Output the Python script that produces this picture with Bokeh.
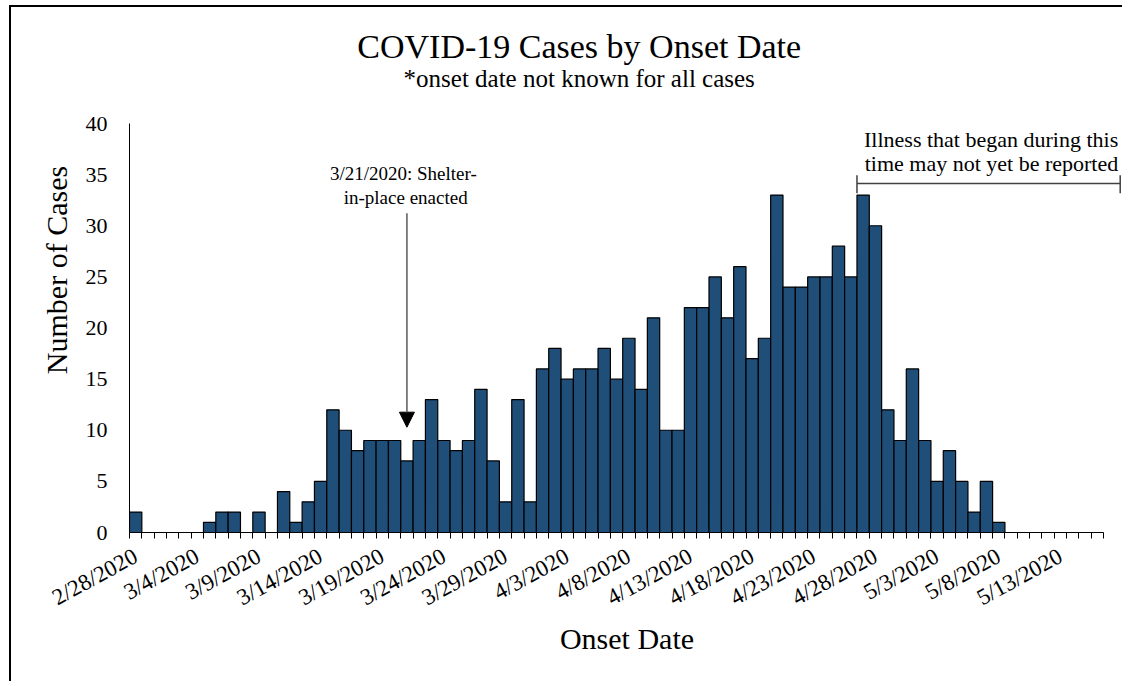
from bokeh.plotting import figure
from bokeh.models import FixedTicker, Range1d, ColumnDataSource, Arrow, NormalHead
from bokeh.core.properties import value
from bokeh.embed import file_html
from bokeh.resources import INLINE

# ---------------- data ----------------
onset_dates = [
    "2/28/2020", "2/29/2020", "3/1/2020", "3/2/2020", "3/3/2020", "3/4/2020", "3/5/2020",
    "3/6/2020", "3/7/2020", "3/8/2020", "3/9/2020", "3/10/2020", "3/11/2020", "3/12/2020",
    "3/13/2020", "3/14/2020", "3/15/2020", "3/16/2020", "3/17/2020", "3/18/2020", "3/19/2020",
    "3/20/2020", "3/21/2020", "3/22/2020", "3/23/2020", "3/24/2020", "3/25/2020", "3/26/2020",
    "3/27/2020", "3/28/2020", "3/29/2020", "3/30/2020", "3/31/2020", "4/1/2020", "4/2/2020",
    "4/3/2020", "4/4/2020", "4/5/2020", "4/6/2020", "4/7/2020", "4/8/2020", "4/9/2020",
    "4/10/2020", "4/11/2020", "4/12/2020", "4/13/2020", "4/14/2020", "4/15/2020", "4/16/2020",
    "4/17/2020", "4/18/2020", "4/19/2020", "4/20/2020", "4/21/2020", "4/22/2020", "4/23/2020",
    "4/24/2020", "4/25/2020", "4/26/2020", "4/27/2020", "4/28/2020", "4/29/2020", "4/30/2020",
    "5/1/2020", "5/2/2020", "5/3/2020", "5/4/2020", "5/5/2020", "5/6/2020", "5/7/2020",
    "5/8/2020", "5/9/2020", "5/10/2020", "5/11/2020", "5/12/2020", "5/13/2020", "5/14/2020",
    "5/15/2020", "5/16/2020",
]

cases = [
    2, 0, 0, 0, 0, 0, 1, 2, 2, 0, 2, 0, 4, 1, 3, 5,
    12, 10, 8, 9, 9, 9, 7, 9, 13, 9, 8, 9, 14, 7, 3, 13, 3,
    16, 18, 15, 16, 16, 18, 15, 19, 14, 21, 10, 10, 22, 22, 25, 21, 26, 17, 19, 33,
    24, 24, 25, 25, 28, 25, 33, 30, 12, 9, 16, 9, 5, 8, 5, 2, 5, 1,
    0, 0, 0, 0, 0, 0, 0, 0,
]

x_tick_labels = ["2/28/2020", "3/4/2020", "3/9/2020", "3/14/2020", "3/19/2020", "3/24/2020",
                 "3/29/2020", "4/3/2020", "4/8/2020", "4/13/2020", "4/18/2020", "4/23/2020",
                 "4/28/2020", "5/3/2020", "5/8/2020", "5/13/2020"]
y_ticks = [0, 5, 10, 15, 20, 25, 30, 35, 40]

shelter_date = "3/21/2020"
unreported_from = "4/27/2020"

# ---------------- layout helpers ----------------
FONT = value("Liberation Serif")
W, H = 1113, 676
LEFT, BOTTOM = 118, 151
PX_PER_DAY = 12.33
PX_PER_CASE = 10.225
ORIG_X, ORIG_Y = 129.3, 532.3   # page position of axis origin
TXT = 9                          # baseline correction for text glyphs


def dx(page_x):
    return (page_x - ORIG_X) / PX_PER_DAY - 0.5


def dy(page_y):
    return (ORIG_Y - page_y) / PX_PER_CASE


idx = list(range(len(onset_dates)))
src = ColumnDataSource(dict(x=idx, top=cases, date=onset_dates))

x_end = -0.5 + (W - LEFT) / PX_PER_DAY
y_end = (H - BOTTOM) / PX_PER_CASE

p = figure(width=W, height=H, output_backend="svg", toolbar_location=None,
           x_range=Range1d(-0.5, x_end), y_range=Range1d(0, y_end),
           min_border_left=LEFT, min_border_right=0, min_border_top=0,
           min_border_bottom=BOTTOM)
p.styles = {"margin-left": "9px", "margin-top": "5px",
            "border-left": "2px solid black", "border-top": "2px solid black"}
p.outline_line_color = None
p.xgrid.grid_line_color = None
p.ygrid.grid_line_color = None
p.background_fill_color = "white"
p.border_fill_color = "white"

p.vbar(x="x", top="top", width=1, source=src, fill_color="#1F4E79",
       line_color="black", line_width=1.2)

# x axis
label_idx = [onset_dates.index(d) for d in x_tick_labels]
xa = p.xaxis[0]
xa.ticker = FixedTicker(ticks=label_idx, minor_ticks=[i - 0.5 for i in range(len(onset_dates) + 1)])
xa.major_label_overrides = {i: onset_dates[i] for i in label_idx}
xa.bounds = (-0.5, len(onset_dates) - 0.5)
xa.major_tick_out = 0
xa.major_tick_in = 0
xa.minor_tick_out = 6
xa.minor_tick_in = 0
xa.minor_tick_line_color = "black"
xa.axis_line_color = "black"
xa.major_label_orientation = 0.5
xa.major_label_standoff = 16
xa.major_label_text_font = "Liberation Serif"
xa.major_label_text_font_size = "23px"
xa.major_label_text_color = "black"
xa.axis_label = "Onset Date"
xa.axis_label_text_font = "Liberation Serif"
xa.axis_label_text_font_size = "30px"
xa.axis_label_text_font_style = "normal"
xa.axis_label_text_color = "black"
xa.axis_label_standoff = -2

# y axis
ya = p.yaxis[0]
ya.ticker = FixedTicker(ticks=y_ticks)
ya.bounds = (0, 40)
ya.major_tick_out = 0
ya.major_tick_in = 0
ya.minor_tick_out = 0
ya.minor_tick_in = 0
ya.axis_line_color = "black"
ya.major_label_standoff = 22
ya.major_label_text_font = "Liberation Serif"
ya.major_label_text_font_size = "22px"
ya.major_label_text_color = "black"
ya.axis_label = "Number of Cases"
ya.axis_label_text_font = "Liberation Serif"
ya.axis_label_text_font_size = "30px"
ya.axis_label_text_font_style = "normal"
ya.axis_label_text_color = "black"
ya.axis_label_standoff = 10

# titles
title_x = dx(579)
p.text(x=[title_x], y=[dy(57 - TXT - 2)], text=["COVID-19 Cases by Onset Date"], text_font=FONT,
       text_font_size="34px", text_align="center", text_baseline="alphabetic", text_color="black")
p.text(x=[title_x], y=[dy(86 - TXT + 1)], text=["*onset date not known for all cases"], text_font=FONT,
       text_font_size="25px", text_align="center", text_baseline="alphabetic", text_color="black")

# shelter-in-place annotation
s_idx = onset_dates.index(shelter_date)
p.text(x=[s_idx - 0.1, s_idx - 0.1], y=[dy(182 - TXT), dy(206 - TXT)],
       text=["3/21/2020:  Shelter-", "in-place enacted"], text_font=FONT,
       text_font_size="19px", text_align="center", text_baseline="alphabetic", text_color="black")
p.add_layout(Arrow(end=NormalHead(size=15, fill_color="black", line_color="black"),
                   x_start=s_idx, y_start=dy(213), x_end=s_idx, y_end=dy(427),
                   line_color="#595959", line_width=1.5))

# reporting-lag bracket
u_idx = onset_dates.index(unreported_from) - 0.5
br_right = dx(1120)
br_y = dy(183.3)
p.segment(x0=[u_idx, u_idx, br_right], y0=[br_y, dy(175), dy(175)],
          x1=[br_right, u_idx, br_right], y1=[br_y, dy(193), dy(193)],
          line_color="#404040", line_width=1.5)
p.text(x=[dx(1118), dx(1118)], y=[dy(148 - TXT), dy(172 - TXT)],
       text=["Illness that began during this", "time may not yet be reported"], text_font=FONT,
       text_font_size="22px", text_align="right", text_baseline="alphabetic", text_color="black")

open("out.html", "w").write(file_html(p, INLINE))
